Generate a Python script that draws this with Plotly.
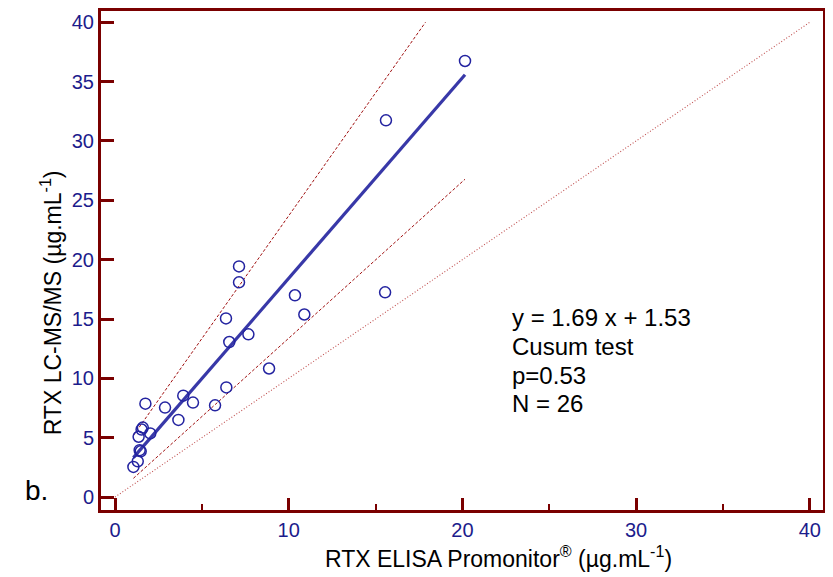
import plotly.graph_objects as go

# RTX concentrations (ug/mL)
elisa_x = [1.06, 1.31, 1.48, 1.42, 1.36, 1.53, 1.60, 2.03, 1.75, 2.88, 3.65, 3.93, 4.49,
           5.76, 6.41, 6.58, 6.39, 7.68, 8.87, 7.14, 7.14, 10.36, 10.90, 15.55, 15.60, 20.15]
lcms_y = [2.54, 3.01, 3.85, 3.95, 5.08, 5.69, 5.85, 5.36, 7.87, 7.54, 6.50, 8.54, 7.96,
          7.73, 9.24, 13.06, 15.05, 13.71, 10.83, 19.43, 18.09, 17.00, 15.38, 17.25, 31.74, 36.74]

# regression y = 1.69 x + 1.53 and its confidence bounds
fit_slope, fit_intercept = 1.69, 1.53
ci_upper_slope, ci_upper_intercept = 2.07, 3.00
ci_lower_slope, ci_lower_intercept = 1.32, 0.18
identity_x = [0, 40]

x_ticks = [0, 10, 20, 30, 40]
y_ticks = [0, 5, 10, 15, 20, 25, 30, 35, 40]

stat_lines = ["y = 1.69 x + 1.53", "Cusum test", "p=0.53", "N = 26"]

AXIS_RED = "#7a0000"
NAVY = "#1c1c8c"
FONT = "Arial, Liberation Sans, sans-serif"

x_lo = min(elisa_x)
x_hi = max(elisa_x)
x_up_hi = (40 - ci_upper_intercept) / ci_upper_slope  # upper bound stops at 40


def line_y(xs, slope, intercept):
    return [slope * v + intercept for v in xs]


fig = go.Figure()

fig.add_trace(go.Scatter(
    x=identity_x, y=identity_x, mode="lines",
    line=dict(color="#c05050", width=1.1, dash="1px,2px"),
))
fig.add_trace(go.Scatter(
    x=[x_lo, x_up_hi], y=line_y([x_lo, x_up_hi], ci_upper_slope, ci_upper_intercept),
    mode="lines", line=dict(color="#a01010", width=1, dash="3px,2px"),
))
fig.add_trace(go.Scatter(
    x=[x_lo, x_hi], y=line_y([x_lo, x_hi], ci_lower_slope, ci_lower_intercept),
    mode="lines", line=dict(color="#a01010", width=1, dash="3px,2px"),
))
fig.add_trace(go.Scatter(
    x=[x_lo, x_hi], y=line_y([x_lo, x_hi], fit_slope, fit_intercept),
    mode="lines", line=dict(color="#3838a8", width=3.2),
))
fig.add_trace(go.Scatter(
    x=elisa_x, y=lcms_y, mode="markers",
    marker=dict(symbol="circle-open", size=11, color="#2323a0", line=dict(width=1.5)),
))

annotations = [
    dict(text="RTX LC-MS/MS (µg.mL<sup>-1</sup>)", xref="paper", yref="paper",
         x=-0.068, y=0.416, xanchor="center", yanchor="middle", textangle=-90,
         showarrow=False, font=dict(size=23, color="black")),
    dict(text="RTX ELISA Promonitor<sup>®</sup> (µg.mL<sup>-1</sup>)", xref="paper", yref="paper",
         x=0.551, y=-0.0936, xanchor="center", yanchor="middle",
         showarrow=False, font=dict(size=23, color="black")),
    dict(text="b.", xref="paper", yref="paper", x=-0.09, y=0.04,
         xanchor="center", yanchor="middle",
         showarrow=False, font=dict(size=28, color="black")),
]
# stats block: one line per annotation, ~29px apart (2.43 y-units)
for i, line in enumerate(stat_lines):
    annotations.append(dict(
        text=line, xref="x", yref="y", x=22.75, y=15.14 - 2.43 * i,
        xanchor="left", yanchor="middle", showarrow=False,
        font=dict(size=24, color="black"),
    ))

# page body adds an 8px offset, so the figure is sized 8px smaller
fig.update_layout(
    width=825, height=569,
    margin=dict(l=93, r=10, t=0, b=67),
    paper_bgcolor="white", plot_bgcolor="white",
    showlegend=False,
    font=dict(family=FONT, color="black"),
    xaxis=dict(
        range=[-0.806, 40.76], tickvals=x_ticks, showgrid=False, zeroline=False,
        showline=True, linecolor=AXIS_RED, linewidth=3, mirror=True,
        ticks="inside", ticklen=12, tickwidth=3, tickcolor=AXIS_RED,
        minor=dict(dtick=5, ticks="inside", ticklen=6, tickwidth=2, tickcolor=AXIS_RED),
        tickfont=dict(size=20, color=NAVY, family=FONT),
    ),
    yaxis=dict(
        range=[-1.09, 40.95], tickvals=y_ticks, showgrid=False, zeroline=False,
        showline=True, linecolor=AXIS_RED, linewidth=3, mirror=True,
        ticks="inside", ticklen=13, tickwidth=3, tickcolor=AXIS_RED,
        tickfont=dict(size=20, color=NAVY, family=FONT),
    ),
    annotations=annotations,
)

fig.write_html("out.html")
